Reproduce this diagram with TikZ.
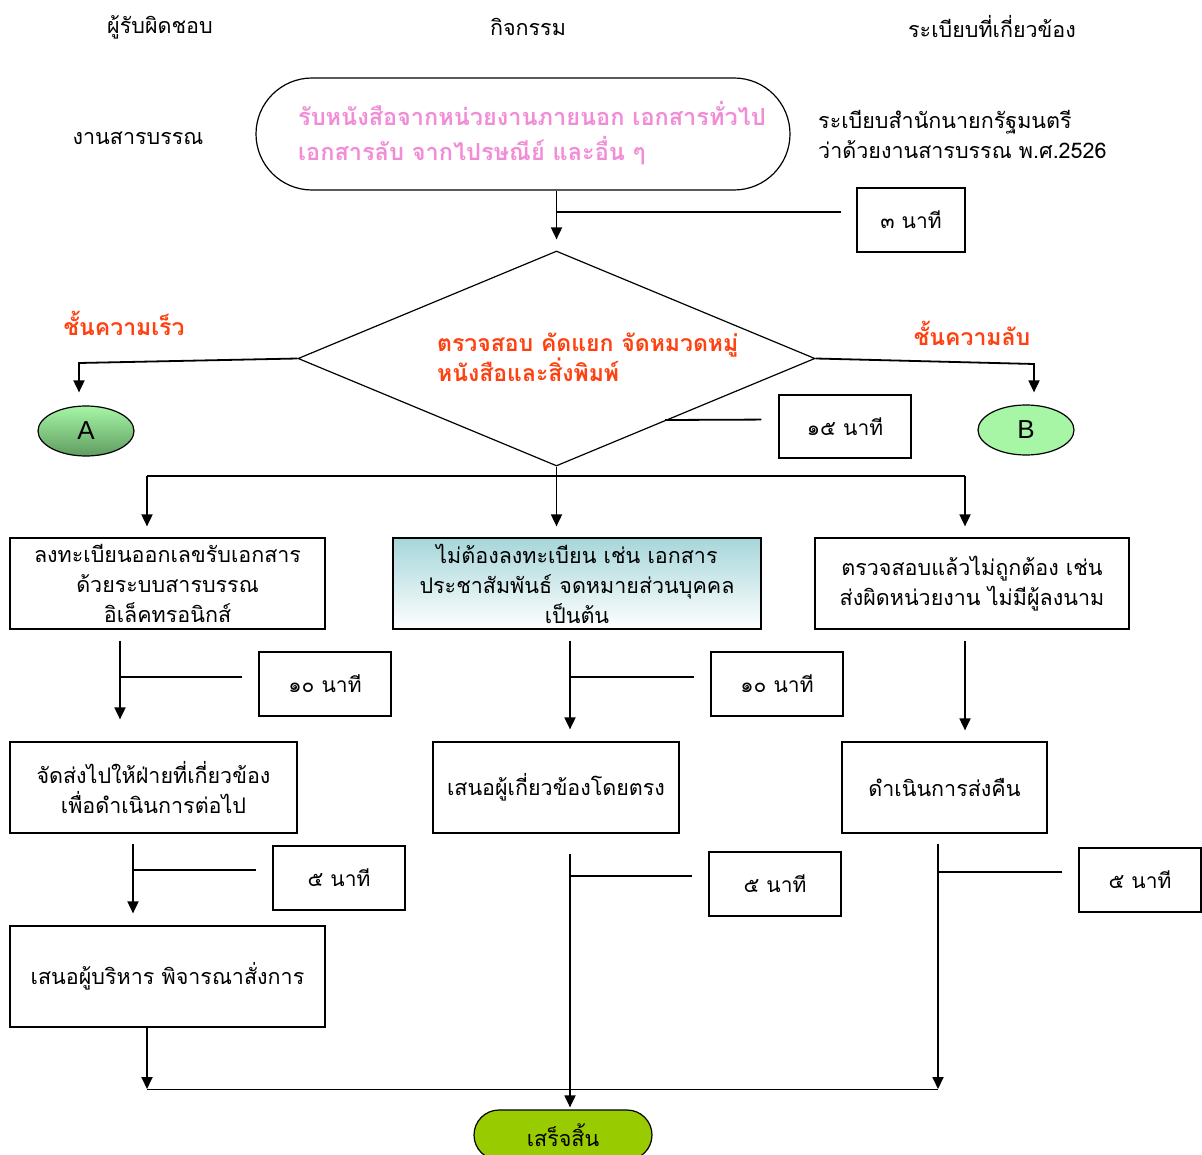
\documentclass[tikz,border=0pt]{standalone}
\usepackage{fontspec}
\setmainfont{Liberation Sans}
\newfontfamily\thai[Script=Thai]{Loma}
\usetikzlibrary{shapes.geometric,arrows.meta}
\definecolor{pinktxt}{RGB}{242,140,215}
\definecolor{redtxt}{RGB}{255,64,16}
\definecolor{lgreen}{RGB}{166,246,166}
\definecolor{dgreen}{RGB}{96,156,96}
\definecolor{teal}{RGB}{166,214,218}
\definecolor{endgreen}{RGB}{153,204,0}
\tikzset{
  tx/.style={font=\thai\fontsize{21.5}{30}\selectfont, inner sep=0pt},
  box/.style={draw, line width=1.2pt, rectangle, inner sep=0pt, align=center, font=\thai\fontsize{21.5}{30}\selectfont},
  tbox/.style={box, font=\thai\fontsize{21}{30}\selectfont},
  redt/.style={tx, text=redtxt, font=\thai\bfseries\fontsize{23}{30}\selectfont},
  conn/.style={line width=1.8pt},
  arr/.style={conn, -{Triangle[width=11pt,length=12pt]}},
}
\begin{document}
\begin{tikzpicture}[x=1pt,y=-1pt]
\useasboundingbox (0,0) rectangle (1202,1155);
% headers
\node[tx] (h1) at (160,27) {ผู้รับผิดชอบ};
\node[tx] (h2) at (528,27) {กิจกรรม};
\node[tx] (h3) at (992,27) {ระเบียบที่เกี่ยวข้อง};
\node[tx] (who) at (138,138) {งานสารบรรณ};
\node[tx, anchor=west, align=left] (reg) at (818,134) {ระเบียบสำนักนายกรัฐมนตรี\\ว่าด้วยงานสารบรรณ พ.ศ.2526};
% start
\node[draw, line width=1.2pt, rectangle, rounded corners=56pt, minimum width=534pt, minimum height=112pt, inner sep=0pt] (ell) at (523,134) {};
\node[tx, anchor=west, align=left, text=pinktxt, font=\thai\bfseries\fontsize{23.5}{35}\selectfont] (elltxt) at (298,133) {รับหนังสือจากหน่วยงานภายนอก เอกสารทั่วไป\\เอกสารลับ จากไปรษณีย์ และอื่น ๆ};
\node[tbox, minimum width=108pt, minimum height=64pt] (t3) at (911,220) {๓ นาที};
% decision
\node[draw, line width=1.2pt, diamond, minimum width=517pt, minimum height=215pt, inner sep=0pt] (dia) at (556.5,358.5) {};
\node[redt, anchor=west, align=left] (diatxt) at (437,357) {ตรวจสอบ คัดแยก จัดหมวดหมู่\\หนังสือและสิ่งพิมพ์};
\node[redt] (fast) at (124,323) {ชั้นความเร็ว};
\node[redt] (secret) at (972,333) {ชั้นความลับ};
\node[draw, line width=1.2pt, ellipse, minimum width=96pt, minimum height=50pt, top color=lgreen, bottom color=dgreen, font=\fontsize{26}{30}\selectfont] (A) at (86,431) {A};
\node[draw, line width=1.2pt, ellipse, minimum width=96pt, minimum height=50pt, fill=lgreen, font=\fontsize{26}{30}\selectfont] (B) at (1026,430) {B};
\node[tbox, minimum width=132pt, minimum height=63pt] (t15) at (845,426.5) {๑๕ นาที};
% row 1
\node[box, minimum width=315pt, minimum height=91pt] (b1) at (167.5,583.5) {ลงทะเบียนออกเลขรับเอกสาร\\ด้วยระบบสารบรรณ\\อิเล็คทรอนิกส์};
\node[box, minimum width=368pt, minimum height=91pt, top color=teal, bottom color=white] (b2) at (577,583.5) {ไม่ต้องลงทะเบียน เช่น เอกสาร\\ประชาสัมพันธ์ จดหมายส่วนบุคคล\\เป็นต้น};
\node[box, minimum width=314pt, minimum height=91pt] (b3) at (972,583.5) {ตรวจสอบแล้วไม่ถูกต้อง เช่น\\ส่งผิดหน่วยงาน ไม่มีผู้ลงนาม};
\node[tbox, minimum width=132pt, minimum height=64pt] (t10a) at (325,684) {๑๐ นาที};
\node[tbox, minimum width=132pt, minimum height=64pt] (t10b) at (777,684) {๑๐ นาที};
% row 2
\node[box, minimum width=287pt, minimum height=91pt] (b4) at (153.5,787.5) {จัดส่งไปให้ฝ่ายที่เกี่ยวข้อง\\เพื่อดำเนินการต่อไป};
\node[box, minimum width=246pt, minimum height=91pt] (b5) at (556,787.5) {เสนอผู้เกี่ยวข้องโดยตรง};
\node[box, minimum width=205pt, minimum height=91pt] (b6) at (944.5,787.5) {ดำเนินการส่งคืน};
\node[tbox, minimum width=132pt, minimum height=64pt] (t5a) at (339,878) {๕ นาที};
\node[tbox, minimum width=132pt, minimum height=64pt] (t5b) at (775,884) {๕ นาที};
\node[tbox, minimum width=122pt, minimum height=64pt] (t5c) at (1140,880) {๕ นาที};
\node[box, minimum width=315pt, minimum height=101pt] (b7) at (167.5,976.5) {เสนอผู้บริหาร พิจารณาสั่งการ};
\node[box, rounded corners=25pt, minimum width=178pt, minimum height=50pt, fill=endgreen] (end) at (563,1135) {เสร็จสิ้น};
% helper coordinates
\coordinate (aL) at (79,363);
\coordinate (bR) at (1034,364);
\coordinate (d15) at (665,420);
\coordinate (sL) at (147,476);
\coordinate (sR) at (965,476);
\coordinate (xL1) at (120,0);
\coordinate (xM1) at (570,0);
\coordinate (xR1) at (965,0);
\coordinate (xL2) at (133,0);
\coordinate (xL3) at (147,0);
\coordinate (xR2) at (938,0);
\coordinate (jL) at (147,1089);
\coordinate (jR) at (938,1089);
% connectors
\draw[arr, shorten >=11pt] (ell.south -| dia.north) -- (dia.north);
\draw[conn, shorten <=15pt] ([yshift=8pt]t3.west) -- ([yshift=8pt]t3.west -| dia.north);
\draw[arr, shorten >=13pt] (dia.west) -- (aL) -- (aL |- A.north);
\draw[arr, shorten >=12pt] (dia.east) -- (bR) -- (bR |- B.north);
\draw[conn, shorten <=17pt] ([yshift=7pt]t15.west) -- (d15);
\draw[conn] (dia.south) -- (dia.south |- sL);
\draw[conn] (sL) -- (sR);
\draw[arr, shorten >=11pt] (sL) -- (sL |- b1.north);
\draw[arr, shorten >=11pt] (dia.south |- sL) -- (dia.south |- b2.north);
\draw[arr, shorten >=11pt] (sR) -- (sR |- b3.north);
\draw[arr, shorten <=11pt, shorten >=22pt] (b1.south -| xL1) -- (b4.north -| xL1);
\draw[conn, shorten <=16pt] ([yshift=7pt]t10a.west) -- ([yshift=7pt]t10a.west -| xL1);
\draw[arr, shorten <=11pt, shorten >=12pt] (b2.south -| xM1) -- (b5.north -| xM1);
\draw[conn, shorten <=16pt] ([yshift=7pt]t10b.west) -- ([yshift=7pt]t10b.west -| xM1);
\draw[arr, shorten <=11pt, shorten >=11pt] (b3.south -| xR1) -- (b6.north -| xR1);
\draw[arr, shorten <=10pt, shorten >=12pt] (b4.south -| xL2) -- (b7.north -| xL2);
\draw[conn, shorten <=16pt] ([yshift=8pt]t5a.west) -- ([yshift=8pt]t5a.west -| xL2);
\draw[arr] (b7.south -| xL3) -- (jL);
\draw[line width=1pt] (jL) -- (jR);
\draw[arr, shorten <=10pt] (b6.south -| xR2) -- (jR);
\draw[conn, shorten <=16pt] ([yshift=8pt]t5c.west) -- ([yshift=8pt]t5c.west -| xR2);
\draw[arr, shorten <=20pt, shorten >=2pt] (b5.south -| xM1) -- (end.north -| xM1);
\draw[conn, shorten <=16pt] ([yshift=8pt]t5b.west) -- ([yshift=8pt]t5b.west -| xM1);
\end{tikzpicture}
\end{document}
